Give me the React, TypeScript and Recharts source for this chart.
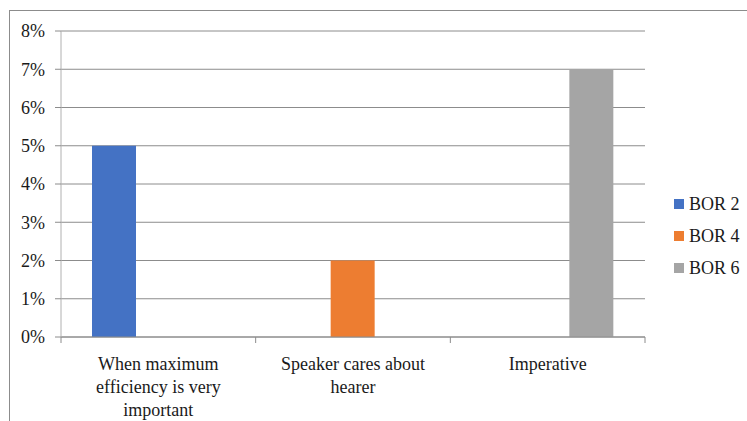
import { Bar, BarChart, CartesianGrid, Legend, XAxis, YAxis } from "recharts";

const categories = ["When maximum efficiency is very important", "Speaker cares about hearer", "Imperative"];
const tickLines = [["When maximum", "efficiency is very", "important"], ["Speaker cares about", "hearer"], ["Imperative"]];
const bor2 = [0.05, 0, 0];
const bor4 = [0, 0.02, 0];
const bor6 = [0, 0, 0.07];
const yTicks = [0, 0.01, 0.02, 0.03, 0.04, 0.05, 0.06, 0.07, 0.08];
const seriesNames = ["BOR 2", "BOR 4", "BOR 6"];
const colors = ["#4472C4", "#ED7D31", "#A5A5A5"];

const FONT = "'Liberation Serif', 'Times New Roman', Times, serif";

const data = categories.map((c, i) => ({ name: c, b2: bor2[i], b4: bor4[i], b6: bor6[i] }));

// category labels wrapped like the original, with tick marks on the band edges
function CategoryTick(props: any) {
  const { x, y, payload, index } = props;
  const half = payload.offset ?? 0;
  const lines = tickLines[index] ?? [String(payload.value)];
  const axisY = y - 20;
  return (
    <g>
      <line x1={x - half} x2={x - half} y1={axisY} y2={axisY + 6} stroke="#8c8c8c" />
      {index === categories.length - 1 && (
        <line x1={x + half} x2={x + half} y1={axisY} y2={axisY + 6} stroke="#8c8c8c" />
      )}
      <text x={x} y={y} textAnchor="middle" fill="#1a1a1a" fontSize={18} fontFamily={FONT}>
        {lines.map((l, i) => (
          <tspan key={i} x={x} dy={i === 0 ? "0.71em" : 23}>
            {l}
          </tspan>
        ))}
      </text>
    </g>
  );
}

function LegendBox() {
  return (
    <div style={{ fontFamily: FONT, fontSize: 18, color: "#1a1a1a" }}>
      {seriesNames.map((n, i) => (
        <div key={n} style={{ display: "flex", alignItems: "center", height: 32 }}>
          <span style={{ width: 10, height: 10, background: colors[i], marginRight: 5 }} />
          <span>{n}</span>
        </div>
      ))}
    </div>
  );
}

export default function App() {
  return (
    <div style={{ position: "absolute", left: 0, top: 0, width: 747, height: 421, overflow: "hidden", background: "#fff" }}>
      <div
        style={{
          position: "absolute",
          left: 9,
          top: 10,
          width: 760,
          height: 430,
          borderTop: "1px solid #8c8c8c",
          borderLeft: "1px solid #8c8c8c",
        }}
      />
      <div style={{ position: "absolute", left: 0, top: 0 }}>
        <BarChart
          width={747}
          height={421}
          data={data}
          margin={{ top: 31, right: 22, left: 0, bottom: 0 }}
          barGap={0}
          barSize={44}
        >
          <CartesianGrid vertical={false} stroke="#8c8c8c" />
          <XAxis
            dataKey="name"
            interval={0}
            stroke="#8c8c8c"
            tickLine={false}
            tickSize={6}
            tickMargin={14}
            tick={<CategoryTick />}
            height={84}
          />
          <YAxis
            domain={[0, 0.08]}
            ticks={yTicks}
            width={61}
            stroke="#b0b0b0"
            tickLine={{ stroke: "#8c8c8c" }}
            tickSize={6}
            tickMargin={10}
            tickFormatter={(v) => `${Math.round(v * 100)}%`}
            tick={{ fill: "#1a1a1a", fontSize: 18, fontFamily: FONT }}
          />
          <Legend
            layout="horizontal"
            verticalAlign="middle"
            align="right"
            content={<LegendBox />}
            wrapperStyle={{ left: 674, top: 188, width: 80, height: 100 }}
          />
          <Bar dataKey="b2" name={seriesNames[0]} fill={colors[0]} isAnimationActive={false} />
          <Bar dataKey="b4" name={seriesNames[1]} fill={colors[1]} isAnimationActive={false} />
          <Bar dataKey="b6" name={seriesNames[2]} fill={colors[2]} isAnimationActive={false} />
        </BarChart>
      </div>
    </div>
  );
}
